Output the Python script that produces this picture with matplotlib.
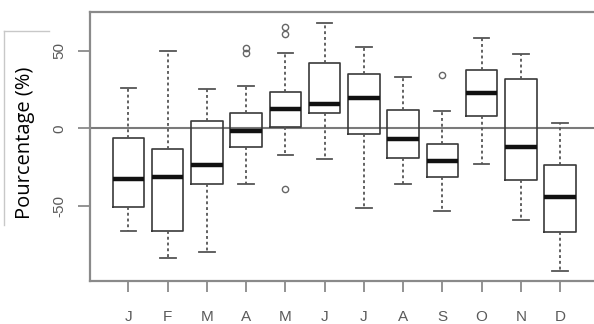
import matplotlib
matplotlib.use("Agg")
import matplotlib.pyplot as plt
from matplotlib.patches import Rectangle
from matplotlib.lines import Line2D

months = ["J", "F", "M", "A", "M", "J", "J", "A", "S", "O", "N", "D"]
whisker_low = [-65.9, -83.6, -79.4, -36.0, -17.2, -19.9, -51.4, -36.0, -53.2, -23.0, -59.0, -91.6]
q1 = [-50.4, -65.9, -36.0, -11.8, 0.6, 9.6, -3.9, -19.3, -31.5, 8.1, -33.2, -66.9]
median = [-32.8, -31.1, -23.4, -1.5, 12.2, 15.8, 19.5, -6.9, -21.2, 22.5, -11.8, -44.0]
q3 = [-6.0, -13.3, 4.9, 9.6, 23.5, 42.2, 34.9, 11.8, -10.3, 37.3, 31.5, -23.8]
whisker_high = [25.7, 49.9, 25.1, 27.4, 48.6, 67.9, 52.5, 33.2, 11.1, 58.3, 47.8, 3.2]
outliers = [[], [], [], [48.4, 51.6], [-39.2, 60.6, 65.1], [], [], [], [34.3], [], [], []]
y_ticks = [-50, 0, 50]

W, H = 594, 324
fig = plt.figure(figsize=(W / 100, H / 100), dpi=100)
fig.patch.set_facecolor("white")
ax = fig.add_axes([90 / W, 1 - 281 / H, (598.5 - 90) / W, (281 - 12) / H])

stats = []
for i in range(len(months)):
    stats.append(dict(med=median[i], q1=q1[i], q3=q3[i],
                      whislo=whisker_low[i], whishi=whisker_high[i],
                      fliers=outliers[i], label=months[i]))

positions = list(range(1, len(months) + 1))
ax.axhline(0, color="#7a7a7a", lw=1.5, zorder=0)
ax.bxp(stats, positions=positions, widths=0.8, capwidths=0.4,
       boxprops=dict(color="#3a3a3a", lw=1.2),
       medianprops=dict(color="#111111", lw=3.2, solid_capstyle="butt"),
       whiskerprops=dict(color="#555555", lw=1.3, linestyle=(0, (1.6, 1.6))),
       capprops=dict(color="#555555", lw=1.3),
       flierprops=dict(marker="o", markerfacecolor="none",
                       markeredgecolor="#666666", markersize=4.5, markeredgewidth=1.0))

ax.set_xlim(0.02, 12.98)
ax.set_ylim(-98.2, 74.8)
ax.set_xticks(positions)
ax.set_xticklabels(months)
ax.set_yticks(y_ticks)
ax.set_yticklabels([str(v) for v in y_ticks], rotation=90, va="center")

for s in ax.spines.values():
    s.set_color("#8a8a8a")
    s.set_linewidth(1.6)

ax.tick_params(axis="x", length=8, width=1.3, color="#8a8a8a", pad=13,
               labelsize=11, labelcolor="#5a5a5a")
ax.tick_params(axis="y", length=9, width=1.3, color="#8a8a8a", pad=8,
               labelsize=11, labelcolor="#5a5a5a")
for lab in ax.get_xticklabels() + ax.get_yticklabels():
    lab.set_fontfamily("Liberation Sans")

# white label panel on the left with a light top/left border
fig.patches.append(Rectangle((4 / W, 1 - 225 / H), 45 / W, 194 / H,
                             transform=fig.transFigure, facecolor="white",
                             edgecolor="none", zorder=5))
fig.lines.append(Line2D([4 / W, 4 / W], [1 - 225 / H, 1 - 31 / H],
                        transform=fig.transFigure, color="#c8c8c8", lw=1.0, zorder=6))
fig.lines.append(Line2D([4 / W, 49 / W], [1 - 31 / H, 1 - 31 / H],
                        transform=fig.transFigure, color="#c8c8c8", lw=1.0, zorder=6))
fig.text(25 / W, 1 - 143 / H, "Pourcentage (%)", rotation=90, ha="center",
         va="center", fontsize=14.5, family="Open Sans", color="black", zorder=7)

fig.savefig("out.png", dpi=100)
